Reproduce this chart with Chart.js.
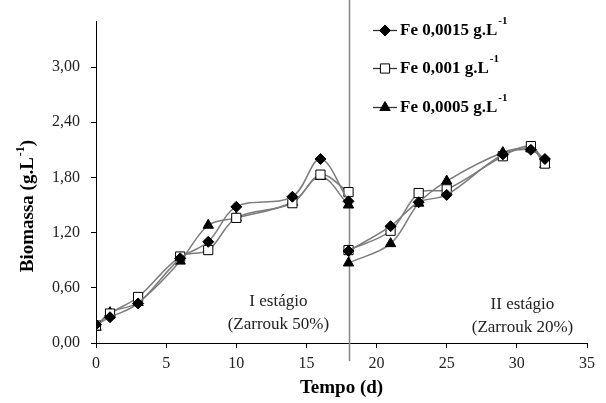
<!DOCTYPE html>
<html>
<head>
<meta charset="utf-8">
<title>Biomassa x Tempo</title>
<script src="https://cdn.jsdelivr.net/npm/chart.js@4/dist/chart.umd.min.js"></script>
<style>
  html, body { margin: 0; padding: 0; background: #fff; }
  #biomassChart { display: block; }
</style>
</head>
<body>
<canvas id="biomassChart" width="606" height="403"></canvas>
<script>
// Culture days, split in two stages (medium changed on day 18)
const stage1Days = [0, 1, 3, 6, 8, 10, 14, 16, 18];
const stage2Days = [18, 21, 23, 25, 29, 31, 32];

// Biomass (g/L) for each iron concentration
const fe15Stage1 = [0.20, 0.28, 0.43, 0.92, 1.10, 1.48, 1.59, 2.00, 1.54];
const fe15Stage2 = [1.00, 1.27, 1.53, 1.61, 2.05, 2.10, 2.00];
const fe10Stage1 = [0.19, 0.32, 0.50, 0.94, 1.01, 1.36, 1.52, 1.83, 1.64];
const fe10Stage2 = [1.01, 1.22, 1.63, 1.67, 2.03, 2.14, 1.95];
const fe05Stage1 = [0.17, 0.33, 0.44, 0.89, 1.28, 1.36, 1.53, 1.81, 1.50];
const fe05Stage2 = [0.87, 1.08, 1.52, 1.76, 2.07, 2.11, 1.94];

const seriesLabels = ['Fe 0,0015 g.L', 'Fe 0,001 g.L', 'Fe 0,0005 g.L'];
const stageChangeDay = 18;
const stageLabels = [
    { day: 13, value: 0.33, lines: ['I estágio', '(Zarrouk 50%)'] },
    { day: 30.4, value: 0.30, lines: ['II estágio', '(Zarrouk 20%)'] }
];

const SERIF = "'Liberation Serif', 'Times New Roman', serif";
const LINE_GREY = '#7c7c7c';

// join both stages into one series, with a gap at the stage change
function buildSeries(days1, vals1, days2, vals2) {
    const pts = days1.map((d, i) => ({ x: d, y: vals1[i] }));
    pts.push({ x: stageChangeDay, y: null });
    days2.forEach((d, i) => pts.push({ x: d, y: vals2[i] }));
    return pts;
}

const markerStyles = [
    { pointStyle: 'rectRot', radius: 5.5, fill: '#000', stroke: '#000' },
    { pointStyle: 'rect', radius: 6.5, fill: '#fff', stroke: '#000' },
    { pointStyle: 'triangle', radius: 6, fill: '#000', stroke: '#000' }
];

const seriesData = [
    buildSeries(stage1Days, fe15Stage1, stage2Days, fe15Stage2),
    buildSeries(stage1Days, fe10Stage1, stage2Days, fe10Stage2),
    buildSeries(stage1Days, fe05Stage1, stage2Days, fe05Stage2)
];

// text with a small raised "-1" exponent
function drawWithSup(ctx, base, sup, tail, x, y, baseFont, supFont, rise) {
    ctx.font = baseFont;
    ctx.fillText(base, x, y);
    let cx = x + ctx.measureText(base).width + 1;
    ctx.font = supFont;
    ctx.fillText(sup, cx, y - rise);
    cx += ctx.measureText(sup).width;
    if (tail) {
        ctx.font = baseFont;
        ctx.fillText(tail, cx, y);
    }
}

function measureWithSup(ctx, base, sup, tail, baseFont, supFont) {
    ctx.font = baseFont;
    let w = ctx.measureText(base).width + 1 + ctx.measureText(tail).width;
    ctx.font = supFont;
    return w + ctx.measureText(sup).width;
}

const decorations = {
    id: 'decorations',
    beforeDatasetsDraw(chart) {
        const ctx = chart.ctx;
        const xs = chart.scales.x;
        const px = Math.round(xs.getPixelForValue(stageChangeDay)) + 0.5;
        // stage divider
        ctx.save();
        ctx.strokeStyle = '#8a8a8a';
        ctx.lineWidth = 1.6;
        ctx.beginPath();
        ctx.moveTo(px, 0);
        ctx.lineTo(px, 361);
        ctx.stroke();
        ctx.restore();
    },
    afterDraw(chart) {
        const ctx = chart.ctx;
        const xs = chart.scales.x;
        const ys = chart.scales.y;
        ctx.save();

        // stage notes
        ctx.fillStyle = '#222';
        ctx.font = '17px ' + SERIF;
        ctx.textAlign = 'center';
        ctx.textBaseline = 'middle';
        stageLabels.forEach(s => {
            const cx = xs.getPixelForValue(s.day);
            const cy = ys.getPixelForValue(s.value);
            ctx.fillText(s.lines[0], cx, cy - 11);
            ctx.fillText(s.lines[1], cx, cy + 12);
        });

        // y axis title
        const tFont = 'bold 19px ' + SERIF;
        const sFont = 'bold 12px ' + SERIF;
        ctx.textAlign = 'left';
        ctx.textBaseline = 'middle';
        ctx.fillStyle = '#000';
        const tw = measureWithSup(ctx, 'Biomassa (g.L', '-1', ')', tFont, sFont);
        ctx.translate(28, 206);
        ctx.rotate(-Math.PI / 2);
        drawWithSup(ctx, 'Biomassa (g.L', '-1', ')', -tw / 2, 0, tFont, sFont, 7);
        ctx.setTransform(1, 0, 0, 1, 0, 0);

        // legend
        const rows = [30, 68, 107];
        const lFont = 'bold 17px ' + SERIF;
        const lSup = 'bold 11px ' + SERIF;
        rows.forEach((ry, i) => {
            ctx.strokeStyle = '#333';
            ctx.lineWidth = 1.3;
            ctx.beginPath();
            ctx.moveTo(373, ry + 0.5);
            ctx.lineTo(397, ry + 0.5);
            ctx.stroke();
            const m = markerStyles[i];
            ctx.fillStyle = m.fill;
            ctx.strokeStyle = m.stroke;
            ctx.lineWidth = 1;
            Chart.helpers.drawPoint(ctx, { pointStyle: m.pointStyle, radius: m.radius, rotation: 0, borderWidth: 1 }, 385, ry + 0.5);
            ctx.fillStyle = '#000';
            ctx.textBaseline = 'middle';
            drawWithSup(ctx, seriesLabels[i], '-1', '', 400, ry + 1, lFont, lSup, 10);
        });
        ctx.restore();
    }
};

new Chart(document.getElementById('biomassChart'), {
    type: 'line',
    data: {
        datasets: seriesData.map((pts, i) => ({
            label: seriesLabels[i],
            data: pts,
            borderColor: LINE_GREY,
            borderWidth: 1.5,
            tension: 0.35,
            spanGaps: false,
            pointStyle: markerStyles[i].pointStyle,
            pointRadius: markerStyles[i].radius,
            pointBackgroundColor: markerStyles[i].fill,
            pointBorderColor: markerStyles[i].stroke,
            pointBorderWidth: 1
        }))
    },
    options: {
        responsive: false,
        animation: false,
        layout: { padding: { left: 0, top: 21, right: 19, bottom: 0 } },
        plugins: {
            legend: { display: false },
            tooltip: { enabled: false }
        },
        scales: {
            x: {
                type: 'linear',
                min: 0,
                max: 35,
                afterFit: s => { s.height = 60; },
                border: { color: '#000', width: 1 },
                grid: { drawOnChartArea: false, drawTicks: true, tickLength: 5, color: '#000' },
                ticks: {
                    stepSize: 5,
                    padding: 6,
                    color: '#222',
                    font: { family: SERIF, size: 16 }
                },
                title: {
                    display: true,
                    text: 'Tempo (d)',
                    color: '#000',
                    font: { family: SERIF, size: 19, weight: 'bold' },
                    padding: { top: 0, bottom: 4 }
                }
            },
            y: {
                type: 'linear',
                min: 0,
                max: 3.5,
                afterFit: s => { s.width = 96; },
                afterBuildTicks: s => {
                    s.ticks = s.ticks.filter(t => Math.abs(t.value / 0.6 - Math.round(t.value / 0.6)) < 1e-6);
                },
                border: { color: '#000', width: 1 },
                grid: { drawOnChartArea: false, drawTicks: true, tickLength: 5, color: '#000' },
                ticks: {
                    stepSize: 0.6,
                    padding: 11,
                    color: '#222',
                    font: { family: SERIF, size: 16 },
                    callback: v => v.toFixed(2).replace('.', ',')
                }
            }
        }
    },
    plugins: [decorations]
});
</script>
</body>
</html>
